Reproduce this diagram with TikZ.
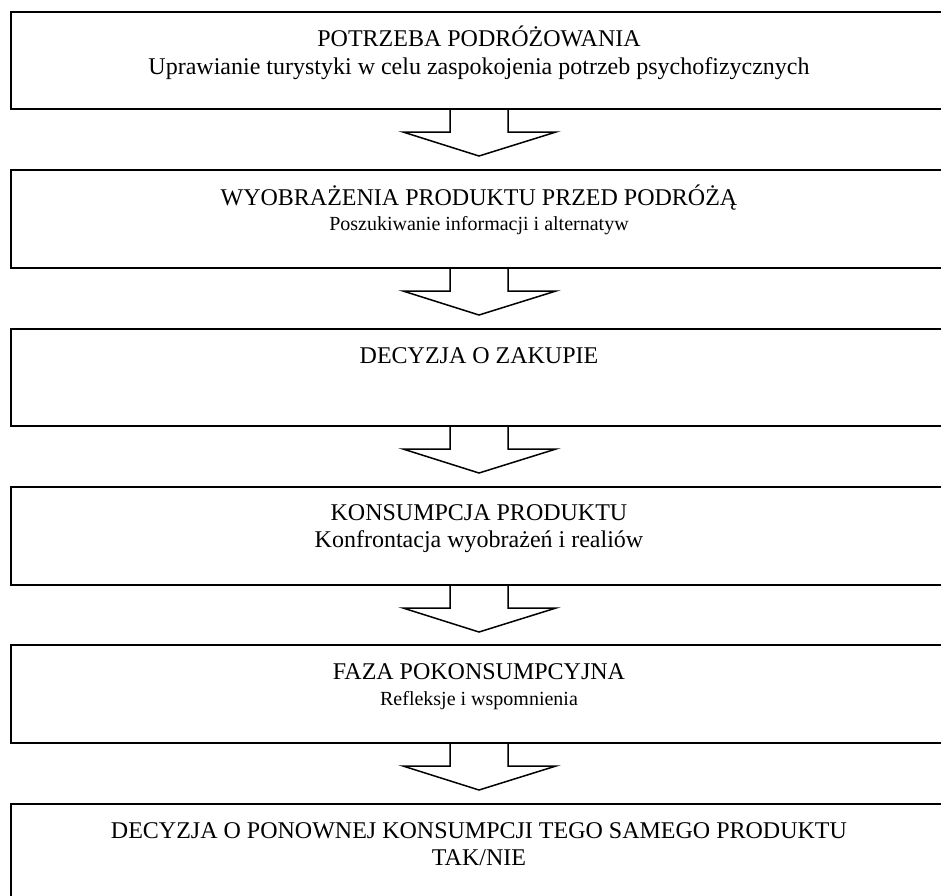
\documentclass[tikz,border=0pt]{standalone}
\usepackage{fontspec}
\setmainfont{Liberation Serif}
\usetikzlibrary{calc}
\begin{document}
\begin{tikzpicture}[x=1pt,y=-1pt,
  stage/.style={draw=black, line width=1.5pt, minimum width=939pt, inner sep=0pt, outer sep=0pt, anchor=north west},
  big/.style={font=\fontsize{24}{28}\selectfont, inner sep=0pt, anchor=base},
  small/.style={font=\fontsize{20}{24}\selectfont, inner sep=0pt, anchor=base},
  flow/.style={draw=black, line width=1.5pt, line join=miter}]
\useasboundingbox (0,0) rectangle (941,895);
\clip (0,0) rectangle (941,895);
% boxes
\node[stage, minimum height=97pt] (b1) at (11,12) {};
\node[stage, minimum height=98pt] (b2) at (11,170) {};
\node[stage, minimum height=97pt] (b3) at (11,329) {};
\node[stage, minimum height=98pt] (b4) at (11,487) {};
\node[stage, minimum height=98pt] (b5) at (11,645) {};
\node[stage, minimum height=110pt] (b6) at (11,804) {};
% texts
\node[big] (t1a) at (479,46) {POTRZEBA PODRÓŻOWANIA};
\node[big] (t1b) at (479,74) {Uprawianie turystyki w celu zaspokojenia potrzeb psychofizycznych};
\node[big] (t2a) at (479,205) {WYOBRAŻENIA PRODUKTU PRZED PODRÓŻĄ};
\node[small] (t2b) at (479,230) {Poszukiwanie informacji i alternatyw};
\node[big] (t3a) at (479,363) {DECYZJA O ZAKUPIE};
\node[big] (t4a) at (479,520) {KONSUMPCJA PRODUKTU};
\node[big] (t4b) at (479,547) {Konfrontacja wyobrażeń i realiów};
\node[big] (t5a) at (479,679) {FAZA POKONSUMPCYJNA};
\node[small] (t5b) at (479,705) {Refleksje i wspomnienia};
\node[big] (t6a) at (479,838) {DECYZJA O PONOWNEJ KONSUMPCJI TEGO SAMEGO PRODUKTU};
\node[big] (t6b) at (479,865) {TAK/NIE};
% block arrows between boxes
\foreach \b in {b1,b2,b3,b4,b5}{
  \draw[flow] ($(\b.south west)+(439,0)$) -- ($(\b.south west)+(439,23)$)
    -- ($(\b.south west)+(392,23)$) -- ($(\b.south west)+(468,47)$)
    -- ($(\b.south west)+(545,23)$) -- ($(\b.south west)+(497,23)$)
    -- ($(\b.south west)+(497,0)$);
}
\end{tikzpicture}
\end{document}
